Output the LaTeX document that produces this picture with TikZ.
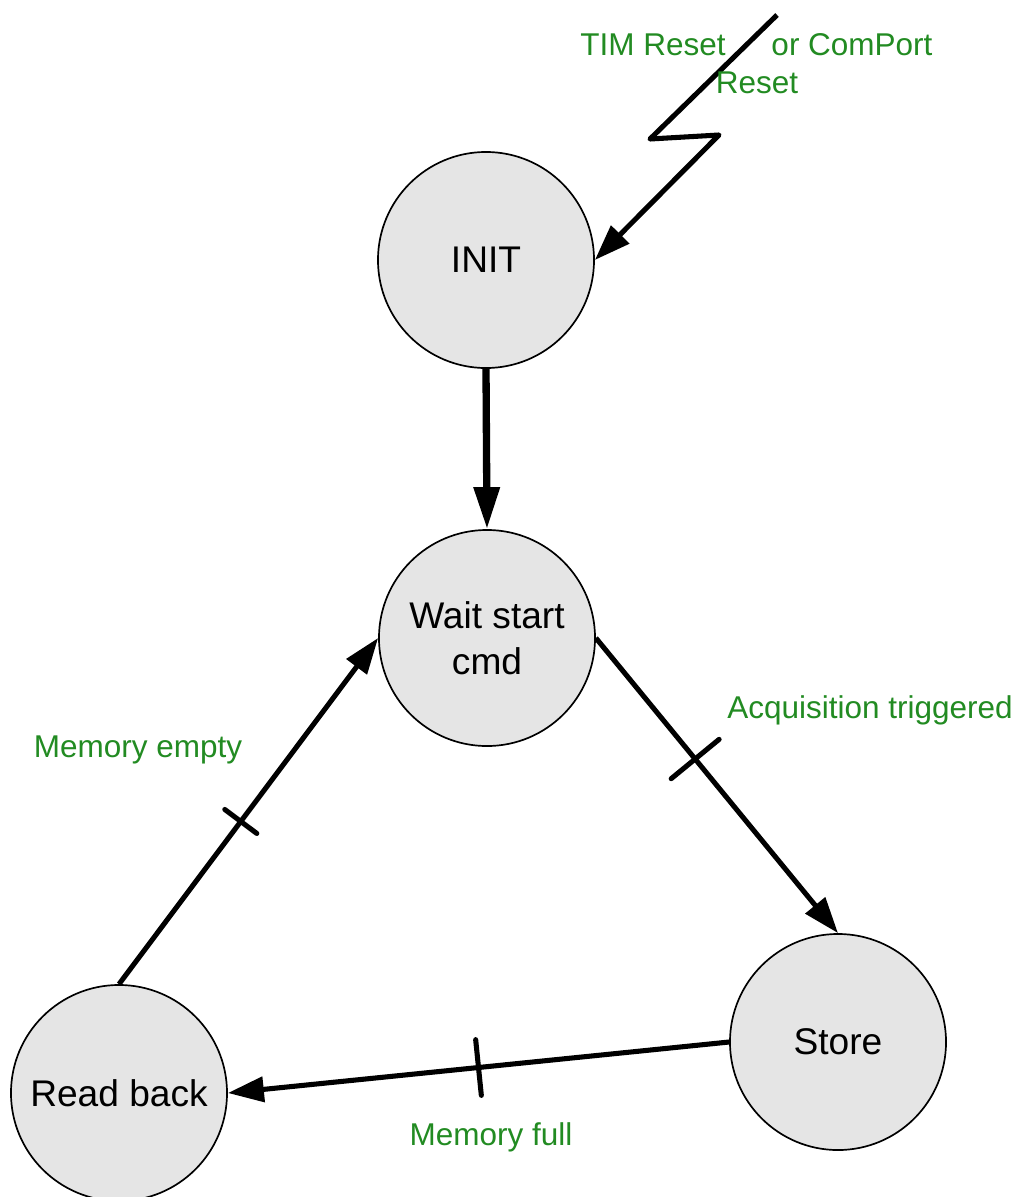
\documentclass[tikz,border=0pt]{standalone}
\usepackage{fontspec}
\setmainfont{Liberation Sans}
\usetikzlibrary{arrows.meta}
\definecolor{lblgreen}{RGB}{34,139,34}

\begin{document}
\begin{tikzpicture}[x=0.025cm, y=-0.025cm,
            every node/.style = {font=\fontsize{26.4}{33}\selectfont},
            state/.style = {draw, circle, fill=black!10, line width=1.2pt, minimum size=5.4cm, inner sep=0pt, align=center},
            trans/.style = {line width=3.6pt, line join=round, -{Triangle[length=0.9cm, width=0.62cm]}},
            lbl/.style = {text=lblgreen, anchor=base, inner sep=0pt, font=\fontsize{22.4}{27}\selectfont},
            tickmark/.style = {draw, sloped, line width=3.6pt, minimum width=0pt, inner sep=0pt}
            ]
            \useasboundingbox (0,0) rectangle (1023,1197);

            \node[state] (init) at (486,260) {INIT};
            \node[state] (wait) at (487,638) {Wait start\\cmd};
            \node[state] (store) at (838,1042) {Store};
            \node[state] (readback) at (119,1093) {Read back};

            % reset flash
            \coordinate (zt) at (777,15);
            \coordinate (zl) at (650,139);
            \coordinate (zr) at (719,135);
            \draw[trans] (zt) -- (zl) -- (zr) -- (init.east);

            \draw[trans, line width=5.2pt, -{Triangle[length=1.05cm, width=0.62cm]}] (init.south) -- (wait.north);
            \draw[trans] (wait.east) -- node[tickmark, pos=0.41, minimum height=1.55cm] (tacq) {} (store.north);
            \draw[trans] (store.west) -- node[tickmark, pos=0.5, minimum height=1.4cm] (tful) {} (readback.east);
            \draw[trans] (readback.north) -- node[tickmark, pos=0.47, minimum height=1cm] (temp) {} (wait.west);

            \node[lbl] (ltim) at (653,55) {TIM Reset};
            \node[lbl] (lcom) at (852,55) {or ComPort};
            \node[lbl] (lres) at (757,93) {Reset};
            \node[lbl] (lacq) at (870,718) {Acquisition triggered};
            \node[lbl] (lemp) at (138,757) {Memory empty};
            \node[lbl] (lful) at (491,1145) {Memory full};
\end{tikzpicture}
\end{document}
